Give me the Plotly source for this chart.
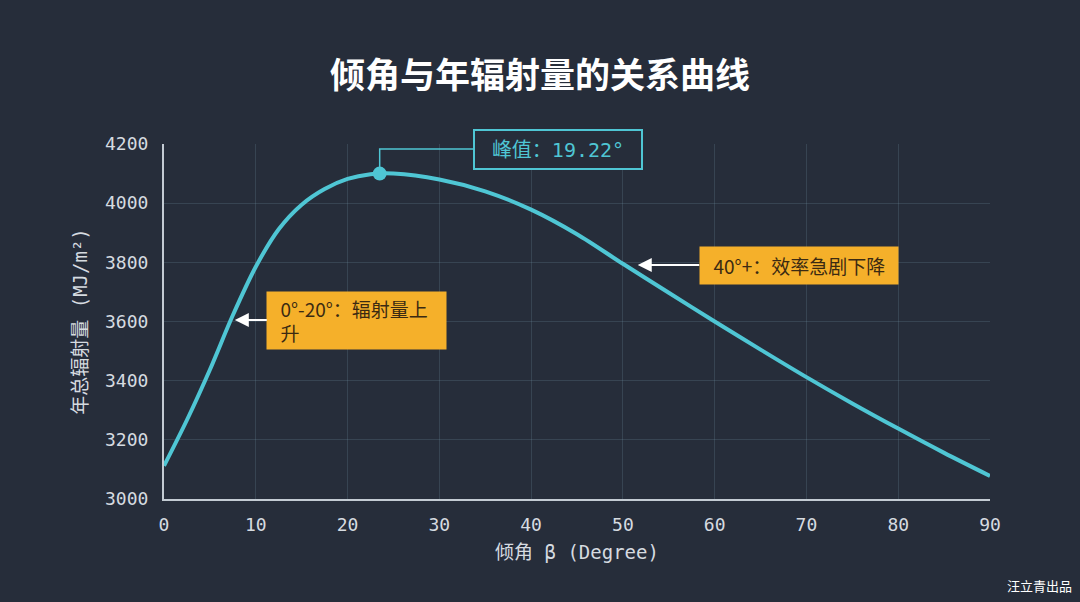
import plotly.graph_objects as go

# ---- data ----
angles = [0, 2.5, 5, 7.5, 10, 12.5, 15, 17.5, 20, 22.5, 25, 30, 35, 40, 45,
          50, 55, 60, 65, 70, 75, 80, 85, 90]
radiation = [3112, 3267, 3437, 3621, 3785, 3912, 3995, 4048, 4082, 4098, 4100,
             4080, 4040, 3978, 3895, 3795, 3697, 3600, 3505, 3412, 3323, 3238,
             3156, 3078]
peak_angle = [23.5]
peak_value = [4100]
peak_label = "峰值：19.22°"
x_ticks = [0, 10, 20, 30, 40, 50, 60, 70, 80, 90]
y_ticks = [3000, 3200, 3400, 3600, 3800, 4000, 4200]

BG = "#262d3a"
TEAL = "#4fc6d4"
ORANGE = "#f5b02a"
GRID = "rgba(120,150,170,0.22)"
AXIS = "#c3cbd3"
TXT = "#d6dbe0"
MONO = "DejaVu Sans Mono, Noto Sans CJK SC"
CJK = "Noto Sans CJK SC, Noto Sans"
NB = "\u00a0\u00a0"

fig = go.Figure()

# connector from peak marker to label box
conn_y = 4183
box_left_x = 33.7
fig.add_trace(go.Scatter(
    x=[peak_angle[0], peak_angle[0], box_left_x],
    y=[peak_value[0], conn_y, conn_y],
    mode="lines", line=dict(color=TEAL, width=1.5),
    hoverinfo="skip", showlegend=False))

fig.add_trace(go.Scatter(
    x=angles, y=radiation, mode="lines",
    line=dict(color=TEAL, width=4, shape="spline", smoothing=0.9),
    showlegend=False))

fig.add_trace(go.Scatter(
    x=peak_angle, y=peak_value, mode="markers",
    marker=dict(color=TEAL, size=14),
    showlegend=False))

# peak label box
fig.add_annotation(
    x=42.9, y=conn_y, xref="x", yref="y", text=peak_label, showarrow=False,
    font=dict(family=MONO, size=20, color=TEAL),
    bgcolor=BG, bordercolor=TEAL, borderwidth=2, borderpad=6,
    width=154, height=25, xanchor="center", yanchor="middle")

# orange callouts
fig.add_annotation(
    x=7.5, y=3605, xref="x", yref="y",
    text=NB + "0°-20°：辐射量上<br>" + NB + "升", align="left",
    showarrow=True, ax=124, ay=0, arrowhead=2, arrowsize=1.4, arrowwidth=2,
    arrowcolor="#ffffff", standoff=2,
    font=dict(family=CJK, size=19, color="#3b2a12"),
    bgcolor=ORANGE, borderpad=5, width=169, height=47)

fig.add_annotation(
    x=51.4, y=3791, xref="x", yref="y",
    text=NB + "40°+：效率急剧下降", align="left",
    showarrow=True, ax=163, ay=0, arrowhead=2, arrowsize=1.4, arrowwidth=2,
    arrowcolor="#ffffff", standoff=2,
    font=dict(family=CJK, size=19, color="#3b2a12"),
    bgcolor=ORANGE, borderpad=5, width=188, height=27)

# watermark
fig.add_annotation(
    x=1, y=0, xref="paper", yref="paper", xanchor="right", yanchor="bottom",
    xshift=84, yshift=-98, text="汪立青出品", showarrow=False,
    font=dict(family=CJK, size=13, color="#ffffff"))

fig.update_layout(
    width=1080, height=602,
    paper_bgcolor=BG, plot_bgcolor=BG,
    margin=dict(l=164, r=90, t=144, b=103),
    title=dict(text="<b>倾角与年辐射量的关系曲线</b>", x=0.5, xanchor="center",
               y=0.875, yanchor="middle",
               font=dict(family=CJK, size=35, color="#ffffff")),
    showlegend=False,
)

fig.update_xaxes(
    range=[0, 90], tickvals=x_ticks, ticktext=[str(v) for v in x_ticks],
    showgrid=True, gridcolor=GRID, gridwidth=1,
    showline=True, linecolor=AXIS, linewidth=2, zeroline=False,
    ticks="", ticklabelstandoff=8,
    tickfont=dict(family=MONO, size=18, color=TXT),
    title=dict(text="倾角 β (Degree)", standoff=12,
               font=dict(family=MONO, size=19, color=TXT)))

fig.update_yaxes(
    range=[3000, 4200], tickvals=y_ticks, ticktext=[str(v) for v in y_ticks],
    showgrid=True, gridcolor=GRID, gridwidth=1,
    showline=True, linecolor=AXIS, linewidth=2, zeroline=False,
    ticks="", ticklabelstandoff=10,
    tickfont=dict(family=MONO, size=18, color=TXT),
    title=dict(text="年总辐射量 (MJ/m²)", standoff=12,
               font=dict(family=MONO, size=19, color=TXT)))

fig.write_html("out.html",
               config={"displayModeBar": False},
               post_script="document.body.style.margin='0';"
                           "document.body.style.background='" + BG + "';")
